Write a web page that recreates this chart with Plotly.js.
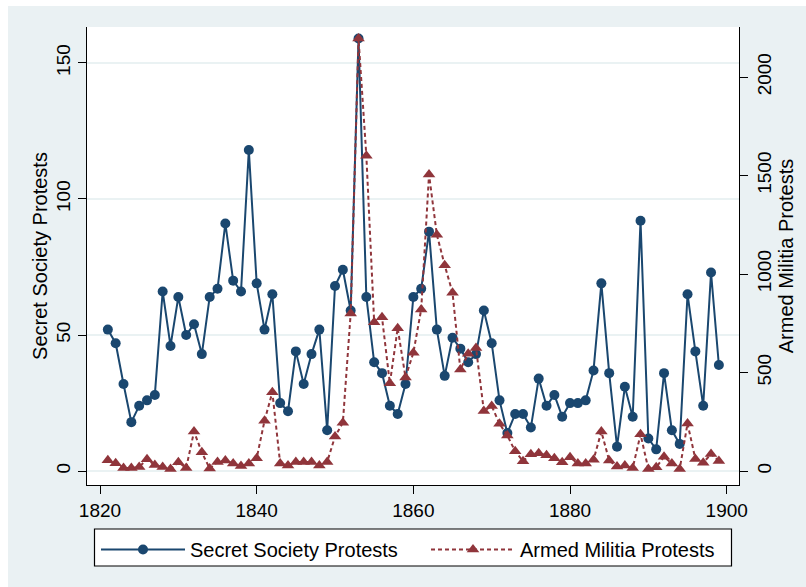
<!DOCTYPE html>
<html>
<head>
<meta charset="utf-8">
<script src="https://cdn.plot.ly/plotly-3.0.1.min.js"></script>
<style>
  html, body { margin: 0; padding: 0; background: #ffffff; }
  #chart { width: 806px; height: 587px; }
</style>
</head>
<body>
<div id="chart"></div>
<script>
// Years 1821 - 1899
const years = [
  1821,1822,1823,1824,1825,1826,1827,1828,1829,1830,
  1831,1832,1833,1834,1835,1836,1837,1838,1839,1840,
  1841,1842,1843,1844,1845,1846,1847,1848,1849,1850,
  1851,1852,1853,1854,1855,1856,1857,1858,1859,1860,
  1861,1862,1863,1864,1865,1866,1867,1868,1869,1870,
  1871,1872,1873,1874,1875,1876,1877,1878,1879,1880,
  1881,1882,1883,1884,1885,1886,1887,1888,1889,1890,
  1891,1892,1893,1894,1895,1896,1897,1898,1899
];

// Secret Society Protests (left axis)
const secretSociety = [
  52,47,32,18,24,26,28,66,46,64,
  50,54,43,64,67,91,70,66,118,69,
  52,65,25,22,44,32,43,52,15,68,
  74,59,159,64,40,36,24,21,32,64,
  67,88,52,35,49,45,40,43,59,47,
  26,14,21,21,16,34,24,28,20,25,
  25,26,37,69,36,9,31,20,92,12,
  8,36,15,10,65,44,24,73,39
];

// Armed Militia Protests (right axis)
const armedMilitia = [
  55,40,15,15,20,60,30,20,10,45,
  15,200,95,13,46,53,38,25,38,65,
  255,400,38,28,46,46,46,28,46,175,
  245,800,2195,1600,755,780,445,725,475,600,
  820,1505,1200,1045,905,515,595,625,305,330,
  240,180,100,50,85,90,80,65,44,70,
  38,38,57,200,53,23,28,15,186,10,
  19,72,38,10,241,61,42,86,51
];

const leftTicks = [0, 50, 100, 150];
const rightTicks = [0, 500, 1000, 1500, 2000];
const xTicks = [1820, 1840, 1860, 1880, 1900];

const navy = '#1a476f';
const maroon = '#90353b';
const bg = '#eaf1f3';
const fontFam = '"Liberation Sans", Arial, Helvetica, sans-serif';

// plot area in pixels: x 87..739, y 27..485
const PX = v => (v - 87) / 652;
const PY = v => (485 - v) / 458;

const traces = [
  {
    x: years, y: secretSociety, name: 'Secret Society Protests',
    type: 'scatter', mode: 'lines+markers', yaxis: 'y', legend: 'legend',
    line: { color: navy, width: 2 },
    marker: { color: navy, size: 10, symbol: 'circle' }
  },
  {
    x: years, y: armedMilitia, name: 'Armed Militia Protests',
    type: 'scatter', mode: 'lines+markers', yaxis: 'y2', legend: 'legend2',
    line: { color: maroon, width: 2, dash: '4px,3px' },
    marker: { color: maroon, size: 11, symbol: 'triangle-up' }
  }
];

const legendCommon = {
  orientation: 'h',
  xanchor: 'left',
  y: PY(530), yanchor: 'top',
  bgcolor: 'rgba(0,0,0,0)', borderwidth: 0,
  font: { size: 20, color: '#000000' },
  itemwidth: 84
};

const layout = {
  width: 806, height: 587,
  margin: { l: 87, r: 67, t: 27, b: 102 },
  paper_bgcolor: bg,
  plot_bgcolor: '#ffffff',
  font: { family: fontFam, size: 19, color: '#000000' },
  showlegend: true,
  xaxis: {
    range: [1818.34, 1901.57],
    tickvals: xTicks, ticktext: xTicks.map(String),
    showgrid: false, zeroline: false,
    showline: true, linecolor: '#000000', linewidth: 1,
    ticks: 'outside', ticklen: 8, tickcolor: '#000000',
    tickfont: { size: 19 }
  },
  yaxis: {
    range: [-5.1, 163.2],
    tickvals: leftTicks, ticktext: leftTicks.map(String),
    tickangle: -90,
    showgrid: true, gridcolor: '#eaf2f3', gridwidth: 1.5,
    zeroline: false,
    showline: true, linecolor: '#000000', linewidth: 1,
    ticks: 'outside', ticklen: 8, tickcolor: '#000000',
    tickfont: { size: 19 },
    title: { text: 'Secret Society Protests', font: { size: 20 }, standoff: 0 }
  },
  yaxis2: {
    overlaying: 'y', side: 'right',
    range: [-71, 2254],
    tickvals: rightTicks, ticktext: rightTicks.map(String),
    tickangle: -90,
    showgrid: false, zeroline: false,
    showline: true, linecolor: '#000000', linewidth: 1,
    ticks: 'outside', ticklen: 8, tickcolor: '#000000',
    tickfont: { size: 19 },
    title: { text: 'Armed Militia Protests', font: { size: 20 }, standoff: 0 }
  },
  legend: Object.assign({}, legendCommon, { x: PX(96) }),
  legend2: Object.assign({}, legendCommon, { x: PX(426) }),
  shapes: [
    { type: 'rect', xref: 'paper', yref: 'paper', layer: 'below',
      x0: -0.14, x1: PX(8), y0: -0.3, y1: 1.07,
      fillcolor: '#ffffff', line: { width: 0 } },
    { type: 'rect', xref: 'paper', yref: 'paper', layer: 'below',
      x0: -0.14, x1: 1.2, y0: PY(6), y1: 1.07,
      fillcolor: '#ffffff', line: { width: 0 } },
    { type: 'rect', xref: 'paper', yref: 'paper', layer: 'below',
      x0: PX(94.5), x1: PX(731.5), y0: PY(566), y1: PY(529),
      fillcolor: '#ffffff', line: { color: '#000000', width: 1.2 } }
  ]
};

Plotly.newPlot('chart', traces, layout, { displayModeBar: false, staticPlot: true });
</script>
</body>
</html>
